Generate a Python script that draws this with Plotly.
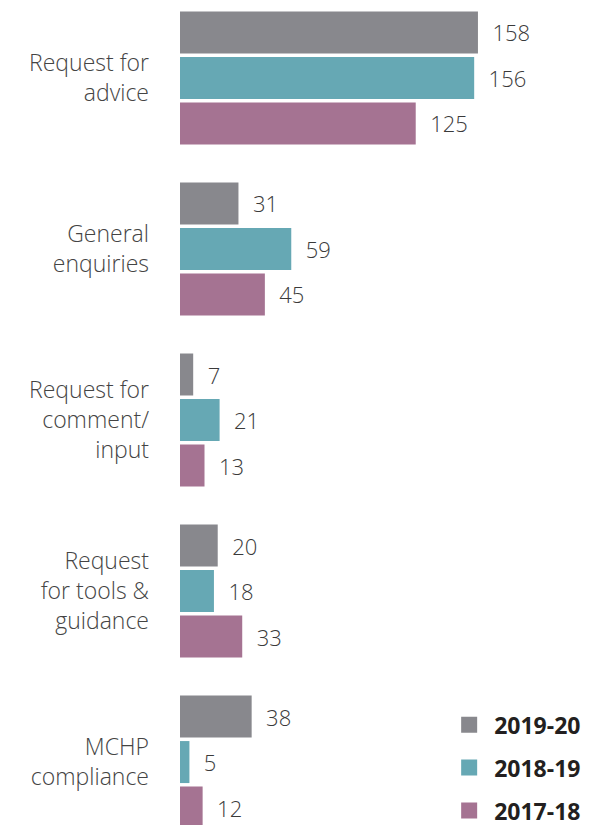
import plotly.graph_objects as go

categories = ["Request for<br>advice", "General<br>enquiries", "Request for<br>comment/<br>input",
              "Request<br>for tools &<br>guidance", "MCHP<br>compliance"]
series_names = ["2019-20", "2018-19", "2017-18"]
v2019 = [158, 31, 7, 20, 38]
v2018 = [156, 59, 21, 18, 5]
v2017 = [125, 45, 13, 33, 12]
values = [v2019, v2018, v2017]
colors = ["#88888d", "#66a8b4", "#a57392"]

fig = go.Figure()
for name, vals, col in zip(series_names, values, colors):
    fig.add_trace(go.Bar(
        y=categories, x=vals, orientation="h", name=name,
        marker=dict(color=col, line=dict(width=0)),
        text=[f"  {v}" for v in vals], textposition="outside", cliponaxis=False,
        textfont=dict(family="Open Sans", size=22, color="#3a3a3a", weight=300),
        showlegend=False,
    ))
for name, col in zip(series_names, colors):
    fig.add_trace(go.Scatter(
        x=[None], y=[None], mode="markers", name=name, legendgroup=name,
        marker=dict(symbol="square", size=16, color=col),
    ))

fig.update_layout(
    width=588, height=817,
    margin=dict(l=172, r=0, t=0, b=0, autoexpand=False),
    paper_bgcolor="white", plot_bgcolor="white",
    barmode="group", bargap=0.2018, bargroupgap=0.077,
    xaxis=dict(range=[0, 220.6], visible=False),
    yaxis=dict(range=[4.368, -0.409], showgrid=False, zeroline=False, showline=False,
               ticks="", ticklabelstandoff=30,
               tickfont=dict(family="Open Sans", size=23, color="#444444", weight=300)),
    legend=dict(x=0.635, xanchor="left", y=0.149, yanchor="top", itemwidth=40,
                font=dict(family="Open Sans", size=23, color="#231f20", weight="bold"),
                tracegroupgap=10, bgcolor="rgba(0,0,0,0)"),
    showlegend=True,
)
fig.write_html("out.html")
